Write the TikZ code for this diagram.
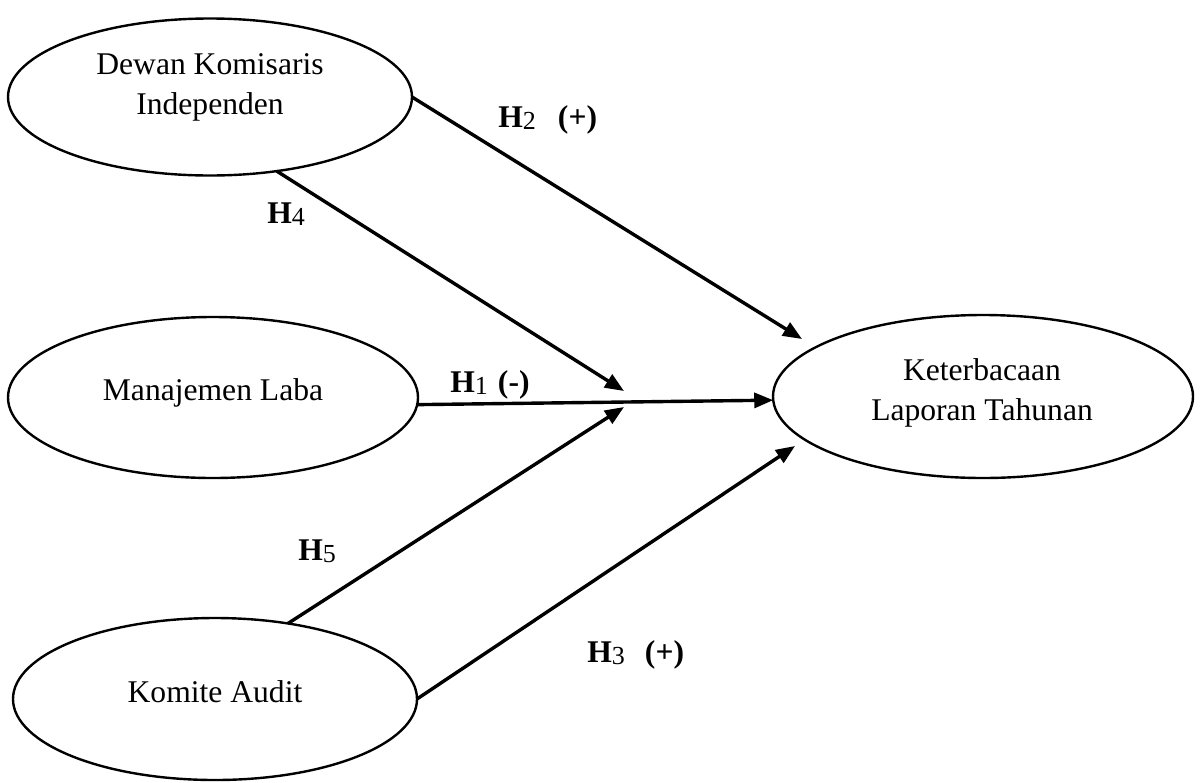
\documentclass[tikz,border=0pt]{standalone}
\usepackage{fontspec}
\setmainfont{Liberation Serif}
\usetikzlibrary{shapes.geometric,arrows.meta}
\newcommand\hsub[1]{\raisebox{-1pt}{\fontsize{13}{12}\selectfont\mdseries #1}}
\begin{document}
\begin{tikzpicture}[x=0.5pt,y=-0.5pt,
  ell/.style={draw,ellipse,line width=1.2pt,inner sep=0pt,outer sep=0pt},
  txt/.style={font=\fontsize{15.8}{20}\selectfont,align=center,inner sep=0pt},
  hyp/.style={font=\fontsize{15.8}{20}\selectfont\bfseries,inner sep=0pt,anchor=base west},
  arr/.style={line width=1.7pt,-{Triangle[length=9.5pt,width=7.5pt]}}]
\useasboundingbox (0,0) rectangle (1203,782);
% ellipses
\node[ell,minimum width=202pt,minimum height=78.5pt] (dk) at (210,97) {};
\node[ell,minimum width=205pt,minimum height=80.5pt] (ml) at (213,397.5) {};
\node[ell,minimum width=202pt,minimum height=81pt] (ka) at (215,699) {};
\node[ell,minimum width=210pt,minimum height=81.5pt] (kl) at (983,396.5) {};
% texts
\node[txt] (dkt) at (210,87.5) {Dewan Komisaris\\Independen};
\node[txt,anchor=base] (mlt) at (213,400) {Manajemen Laba};
\node[txt,anchor=base] (kat) at (215,702) {Komite Audit};
\node[txt] (klt) at (982,392.5) {Keterbacaan\\Laporan Tahunan};
% arrow tips
\coordinate (t2) at (802,339);
\coordinate (t4) at (624,391);
\coordinate (t5) at (624,407);
\coordinate (t3) at (795,446);
% arrows
\draw[arr] (dk.east) -- (t2);
\draw[arr] (dk.-48.6) -- (t4);
\draw[arr] (ml.-2.4) -- (kl.181.3);
\draw[arr] (ka.46.2) -- (t5);
\draw[arr] (ka.east) -- (t3);
% labels
\node[hyp] (h2) at (498,127) {H\hsub{2}\hspace{11pt}(+)};
\node[hyp] (h4) at (267,223) {H\hsub{4}};
\node[hyp] (h1) at (450,392) {H\hsub{1}\hspace{5pt}(-)};
\node[hyp] (h5) at (298,560) {H\hsub{5}};
\node[hyp] (h3) at (587,662) {H\hsub{3}\hspace{10pt}(+)};
\end{tikzpicture}
\end{document}
